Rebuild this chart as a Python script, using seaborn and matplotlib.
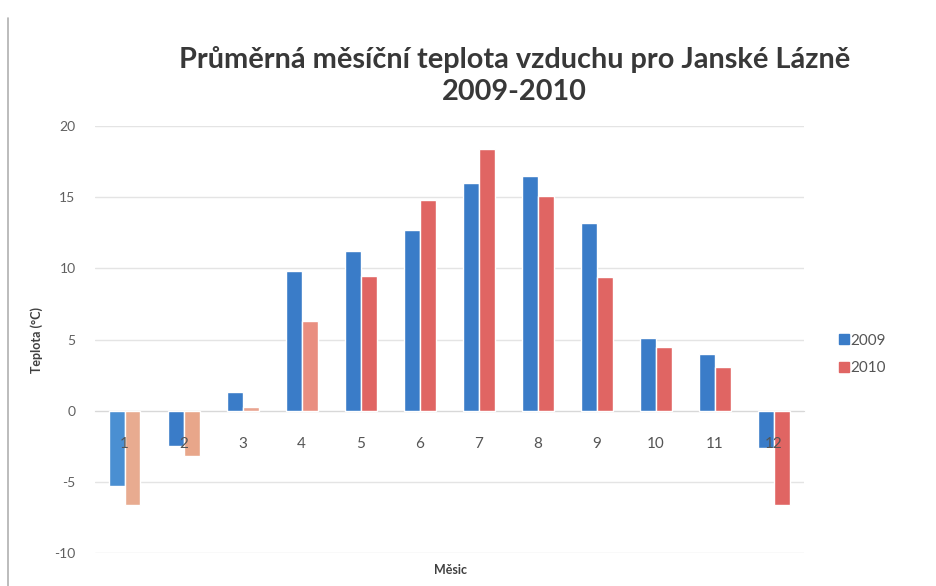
import numpy as np
import pandas as pd
import seaborn as sns
import matplotlib.pyplot as plt
from matplotlib.ticker import MultipleLocator, FixedLocator
from matplotlib.lines import Line2D

# Average monthly air temperature, Janské Lázně
months = [1, 2, 3, 4, 5, 6, 7, 8, 9, 10, 11, 12]
temp_2009 = [-5.3, -2.5, 1.3, 9.8, 11.2, 12.7, 16.0, 16.5, 13.2, 5.1, 4.0, -2.6]
temp_2010 = [-6.6, -3.2, 0.3, 6.3, 9.5, 14.8, 18.4, 15.1, 9.4, 4.5, 3.1, -6.6]
years = ['2009', '2010']

# scanned look: a few bars appear washed out
colors_2009 = ['#4a8fd2'] + ['#3a7cc8'] * 11
colors_2010 = ['#e8ab90', '#e8a68a', '#e9a490', '#e98e80'] + ['#e06563'] * 8

df = pd.DataFrame({
    'month': months * 2,
    'temp': temp_2009 + temp_2010,
    'year': [years[0]] * 12 + [years[1]] * 12,
})

sns.set_style('white')
plt.rcParams['font.family'] = ['Lato', 'DejaVu Sans']
plt.rcParams['axes.unicode_minus'] = False

fig = plt.figure(figsize=(9.36, 5.86), dpi=100)
ax = fig.add_axes([0.1015, 0.056, 0.757, 0.729])

sns.barplot(data=df, x='month', y='temp', hue='year', palette=['#3a7cc8', '#e06563'],
            width=0.54, ax=ax, legend=False, saturation=1, zorder=1)

for bar, c in zip(ax.containers[0], colors_2009):
    bar.set_facecolor(c)
for bar, c in zip(ax.containers[1], colors_2010):
    bar.set_facecolor(c)

ax.set_ylim(-10, 20)
ax.set_xlim(-0.5, 11.5)
ax.yaxis.set_major_locator(MultipleLocator(5))
# gridlines behind the bars, tick labels above them
for yv in ax.get_yticks():
    ax.axhline(yv, color='#e4e4e4', linewidth=1, zorder=0)
ax.set_axisbelow(False)

for s in ['top', 'right', 'left']:
    ax.spines[s].set_visible(False)
ax.spines['bottom'].set_position(('data', 0))
ax.spines['bottom'].set_color('#d8d8d8')
ax.spines['bottom'].set_zorder(0.5)

ax.xaxis.set_minor_locator(FixedLocator(np.arange(-0.5, 12, 1)))
ax.tick_params(axis='x', which='major', length=0, pad=19, labelsize=11, labelcolor='#555555')
ax.tick_params(axis='x', which='minor', length=4, color='#d8d8d8', direction='inout')
ax.tick_params(axis='y', length=0, pad=14, labelsize=10, labelcolor='#606060')

ax.set_xlabel('')
ax.set_ylabel('Teplota (°C)', fontsize=9, fontweight='bold', color='#404040', labelpad=8)
fig.text(0.481, 0.028, 'Měsic', fontsize=9, fontweight='bold', color='#404040',
         ha='center', va='center')

fig.text(0.55, 0.871, 'Průměrná měsíční teplota vzduchu pro Janské Lázně\n2009-2010',
         ha='center', va='center', fontsize=20.8, fontweight='bold', color='#383838',
         linespacing=1.25)

handles = [Line2D([], [], marker='s', linestyle='', markersize=7, color=c)
           for c in ['#3a7cc8', '#e06563']]
fig.legend(handles, years, loc='center left', bbox_to_anchor=(0.88, 0.395),
           frameon=False, fontsize=11, handletextpad=0.05, labelspacing=0.9,
           labelcolor='#555555', handlelength=0.8)

# scan edge on the left
fig.add_artist(Line2D([0.009, 0.009], [0, 0.97], color='#b0b0b0', linewidth=1.2))

fig.savefig('out.png', dpi=100)
